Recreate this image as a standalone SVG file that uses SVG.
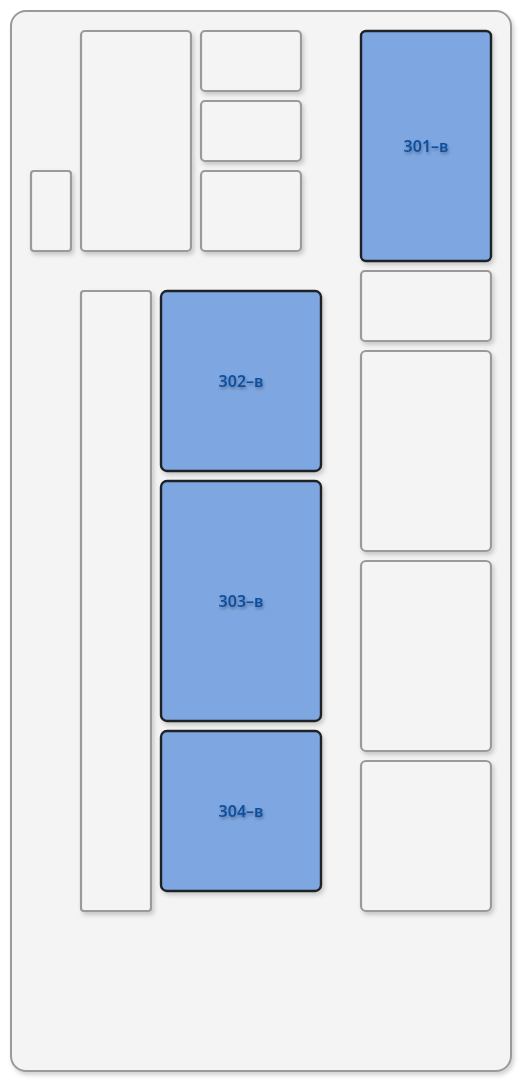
<svg xmlns="http://www.w3.org/2000/svg" width="529" height="1089" viewBox="0 0 529 1089">
<defs>
<filter id="sh" x="-10%" y="-10%" width="130%" height="130%">
<feDropShadow dx="2" dy="3" stdDeviation="2" flood-color="#000" flood-opacity="0.18"/>
</filter>
<filter id="ts" x="-20%" y="-40%" width="140%" height="200%">
<feDropShadow dx="1" dy="2" stdDeviation="1.5" flood-color="#000" flood-opacity="0.3"/>
</filter>
</defs>
<style>
.frame{fill:#f4f4f4;stroke:#9a9a9a;stroke-width:2}
.slot{fill:#f4f4f4;stroke:#9a9a9a;stroke-width:2.2}
.fuse{fill:#7ea6e0;stroke:#1f2226;stroke-width:2.4}
.lbl{font-family:"Noto Sans","DejaVu Sans",sans-serif;font-size:16px;font-weight:600;fill:#0d4f9e;text-anchor:middle;dominant-baseline:central}
</style>
<rect class="frame" x="11" y="11" width="500" height="1060" rx="15" filter="url(#sh)"/>
<g id="slot-a" filter="url(#sh)"><rect class="slot" x="31" y="171" width="40" height="80" rx="3"/></g>
<g id="slot-b" filter="url(#sh)"><rect class="slot" x="81" y="31" width="110" height="220" rx="4"/></g>
<g id="slot-c" filter="url(#sh)"><rect class="slot" x="201" y="31" width="100" height="60" rx="4"/></g>
<g id="slot-d" filter="url(#sh)"><rect class="slot" x="201" y="101" width="100" height="60" rx="4"/></g>
<g id="slot-e" filter="url(#sh)"><rect class="slot" x="201" y="171" width="100" height="80" rx="4"/></g>
<g id="fuse-301" filter="url(#sh)"><rect class="fuse" x="361" y="31" width="130" height="230" rx="5"/><text class="lbl" x="426" y="146" filter="url(#ts)">301–в</text></g>
<g id="slot-f" filter="url(#sh)"><rect class="slot" x="361" y="271" width="130" height="70" rx="4"/></g>
<g id="slot-g" filter="url(#sh)"><rect class="slot" x="361" y="351" width="130" height="200" rx="5"/></g>
<g id="slot-h" filter="url(#sh)"><rect class="slot" x="361" y="561" width="130" height="190" rx="5"/></g>
<g id="slot-i" filter="url(#sh)"><rect class="slot" x="361" y="761" width="130" height="150" rx="5"/></g>
<g id="slot-j" filter="url(#sh)"><rect class="slot" x="81" y="291" width="70" height="620" rx="3"/></g>
<g id="fuse-302" filter="url(#sh)"><rect class="fuse" x="161" y="291" width="160" height="180" rx="6"/><text class="lbl" x="241" y="381" filter="url(#ts)">302–в</text></g>
<g id="fuse-303" filter="url(#sh)"><rect class="fuse" x="161" y="481" width="160" height="240" rx="6"/><text class="lbl" x="241" y="601" filter="url(#ts)">303–в</text></g>
<g id="fuse-304" filter="url(#sh)"><rect class="fuse" x="161" y="731" width="160" height="160" rx="6"/><text class="lbl" x="241" y="811" filter="url(#ts)">304–в</text></g>
<g id="connectors"/>
</svg>
